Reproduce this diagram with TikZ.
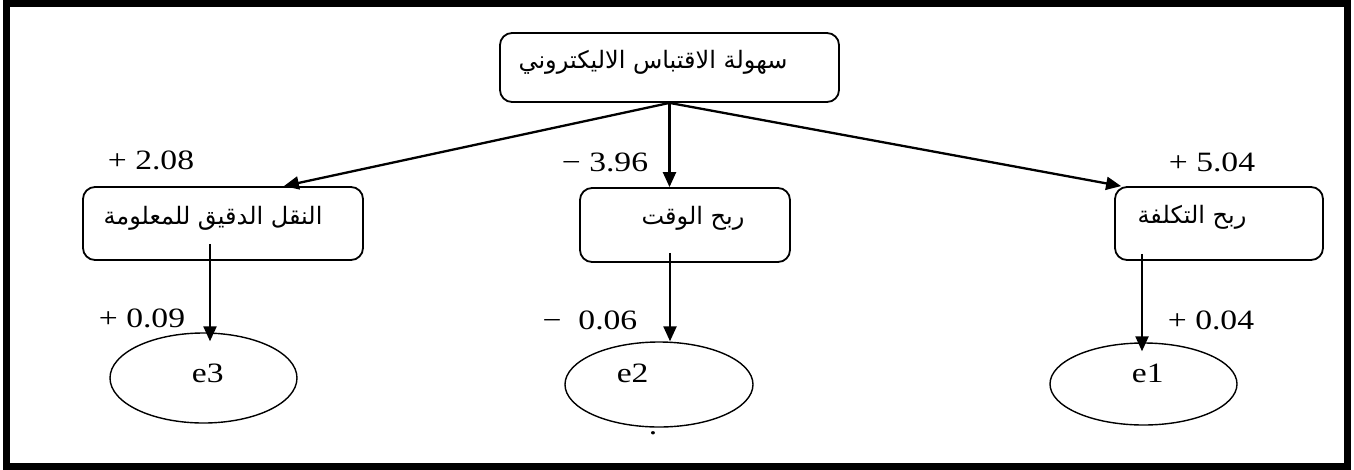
\documentclass[tikz,border=0pt]{standalone}
\usepackage{fontspec}
\setmainfont{Liberation Serif}
\newfontfamily\arabicfont[Script=Arabic]{DejaVu Sans}
\TeXXeTstate=1
\usetikzlibrary{arrows.meta,shapes.geometric,calc}
\begin{document}
\begin{tikzpicture}[x=1pt,y=-1pt,
 box/.style={draw, rounded corners=12pt, line width=1.8pt, inner sep=0pt},
 oval/.style={draw, ellipse, line width=1.4pt, inner sep=0pt},
 num/.style={font=\fontsize{28}{30}\selectfont, xscale=1.2, inner sep=0pt},
 elab/.style={font=\fontsize{28}{30}\selectfont, xscale=1.2, inner sep=0pt},
 ar/.style={font=\arabicfont\fontsize{24}{27}\selectfont, inner sep=0pt},
 arr/.style={line width=2.3pt, -{Triangle[length=15pt,width=13pt]}}]
\useasboundingbox (0,0) rectangle (1354,469);
\draw[line width=7pt] (6.5,3.5) rectangle (1347,466);
% boxes
\node[box, minimum width=339pt, minimum height=69pt,
  label={[ar, xshift=-16.5pt, yshift=5.5pt]center:\beginR سهولة الاقتباس الاليكتروني\endR}] (top) at (669.5,67.5) {};
\node[box, minimum width=280pt, minimum height=73pt,
  label={[ar, xshift=-10pt, yshift=5.5pt]center:\beginR النقل الدقيق للمعلومة\endR}] (left) at (223,223.5) {};
\node[box, minimum width=210pt, minimum height=74pt,
  label={[ar, xshift=8pt, yshift=7pt]center:\beginR ربح الوقت\endR}] (mid) at (685,225) {};
\node[box, minimum width=208pt, minimum height=73pt,
  label={[ar, xshift=-27pt, yshift=6.5pt]center:\beginR ربح التكلفة\endR}] (right) at (1219,223.5) {};
% ellipses
\node[oval, minimum width=187pt, minimum height=90pt,
  label={[elab, xshift=3.5pt, yshift=5pt]center:e3}] (e3) at (203.5,378) {};
\node[oval, minimum width=188pt, minimum height=85pt,
  label={[elab, xshift=-22pt, yshift=11.5pt]center:e2}] (e2) at (659,384.5) {};
\node[oval, minimum width=187pt, minimum height=82pt,
  label={[elab, xshift=3.5pt, yshift=11pt]center:e1}] (e1) at (1143.5,384) {};
% start points of the vertical arrows
\coordinate (s3) at ([xshift=-13pt, yshift=17pt]left.south);
\coordinate (s2) at ([xshift=-15pt, yshift=10pt]mid.south);
\coordinate (s1) at ([xshift=-77pt, yshift=7pt]right.south);
% arrows
\draw[arr] (top.south) -- ([xshift=-80pt]left.north east);
\draw[arr] (top.south) -- (mid.north -| top.south);
\draw[arr] (top.south) -- ([xshift=7pt]right.north west);
\draw[arr, shorten >=-9pt] (s3) -- (s3 |- e3.north);
\draw[arr] (s2) -- (s2 |- e2.north);
\draw[arr, shorten >=-9pt] (s1) -- (s1 |- e1.north);
% coefficients
\node[num] (n1) at (151,160) {+ 2.08};
\node[num] (n2) at (605,162) {− 3.96};
\node[num] (n3) at (1212,162) {+ 5.04};
\node[num] (n4) at (142,318) {+ 0.09};
\node[num] (n5) at (590,320) {−\ \ 0.06};
\node[num] (n6) at (1211,320) {+ 0.04};
\node[num] (dot) at (653,433) {.};
\end{tikzpicture}
\end{document}
